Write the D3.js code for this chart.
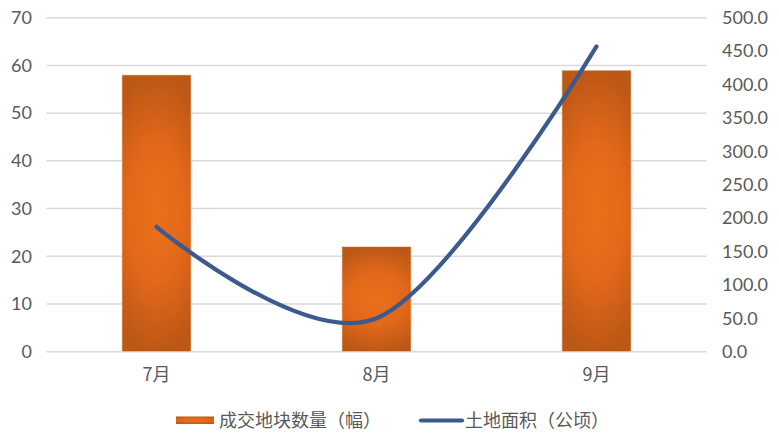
<!DOCTYPE html>
<html><head><meta charset="utf-8">
<script src="https://cdn.jsdelivr.net/npm/d3@7"></script>
<style>body{margin:0;background:#fff}svg{display:block}</style>
</head><body>
<script>
const categories = ["7月","8月","9月"];
const parcelCounts = [58, 22, 59];
const landArea = [187, 50, 457];
const leftTicks = [0,10,20,30,40,50,60,70];
const rightTicks = [0,50,100,150,200,250,300,350,400,450,500];
const seriesNames = ["成交地块数量（幅）","土地面积（公顷）"];

const W = 779, H = 442;
const svg = d3.select("body").append("svg").attr("width", W).attr("height", H);
const fontNum = "'Lato','DejaVu Sans',sans-serif";
const fontCJK = "'Noto Sans CJK SC','Noto Sans',sans-serif";
const txt = "#595959";

const x = d3.scaleBand().domain(categories).range([46.5, 706.5]).paddingInner(0.686).paddingOuter(0.343);
const yL = d3.scaleLinear().domain([0,70]).range([351.7, 17.7]);
const yR = d3.scaleLinear().domain([0,500]).range([351.7, 17.7]);

const defs = svg.append("defs");
const g = defs.append("radialGradient").attr("id","barGrad").attr("cx","50%").attr("cy","50%").attr("r","50%")
  .attr("gradientTransform","translate(0.5,0.5) scale(1.7,1) translate(-0.5,-0.5)");
g.append("stop").attr("offset","0%").attr("stop-color","#ec701a");
g.append("stop").attr("offset","50%").attr("stop-color","#e2681a");
g.append("stop").attr("offset","100%").attr("stop-color","#bc5816");

// gridlines
svg.append("g").selectAll("line").data(leftTicks).join("line")
  .attr("x1",46.5).attr("x2",706.5)
  .attr("y1",d=>yL(d)).attr("y2",d=>yL(d))
  .attr("stroke","#d9d9d9").attr("stroke-width",1.5);

// left axis
const la = svg.append("g").attr("transform","translate(32,0)")
  .call(d3.axisLeft(yL).tickValues(leftTicks).tickSize(0).tickPadding(0));
la.select(".domain").remove();
la.selectAll("text").attr("font-family",fontNum).attr("font-size",18).attr("fill",txt);

// right axis
const ra = svg.append("g").attr("transform","translate(722,0)")
  .call(d3.axisRight(yR).tickValues(rightTicks).tickSize(0).tickPadding(0).tickFormat(d3.format(".1f")));
ra.select(".domain").remove();
ra.selectAll("text").attr("font-family",fontNum).attr("font-size",18).attr("fill",txt);

// x axis
const xa = svg.append("g").attr("transform","translate(0,351.7)")
  .call(d3.axisBottom(x).tickSize(0).tickPadding(17));
xa.select(".domain").remove();
xa.selectAll("text").attr("font-family",fontCJK).attr("font-size",18).attr("fill",txt);

// bars
svg.append("g").selectAll("rect").data(parcelCounts).join("rect")
  .attr("x",(d,i)=>x(categories[i]))
  .attr("width",x.bandwidth())
  .attr("y",d=>yL(d))
  .attr("height",d=>yL(0)-yL(d))
  .attr("fill","url(#barGrad)")
  .attr("stroke","#f6dcc0").attr("stroke-width",0.6);

// line
const line = d3.line()
  .x((d,i)=>x(categories[i]) + x.bandwidth()/2)
  .y(d=>yR(d))
  .curve(d3.curveCardinal.tension(0));
svg.append("path").datum(landArea).attr("d",line)
  .attr("fill","none").attr("stroke","#3c5a8d").attr("stroke-width",4.2)
  .attr("stroke-linecap","round");

// legend
const lg = svg.append("g");
lg.append("rect").attr("x",176).attr("y",416.5).attr("width",38).attr("height",7.5).attr("fill","url(#barGrad)");
lg.append("text").attr("x",219).attr("y",427).attr("font-family",fontCJK).attr("font-size",18).attr("fill",txt).text(seriesNames[0]);
lg.append("line").attr("x1",421).attr("x2",462).attr("y1",420.5).attr("y2",420.5)
  .attr("stroke","#3c5a8d").attr("stroke-width",4.2).attr("stroke-linecap","round");
lg.append("text").attr("x",465).attr("y",427).attr("font-family",fontCJK).attr("font-size",18).attr("fill",txt).text(seriesNames[1]);
</script>
</body></html>
